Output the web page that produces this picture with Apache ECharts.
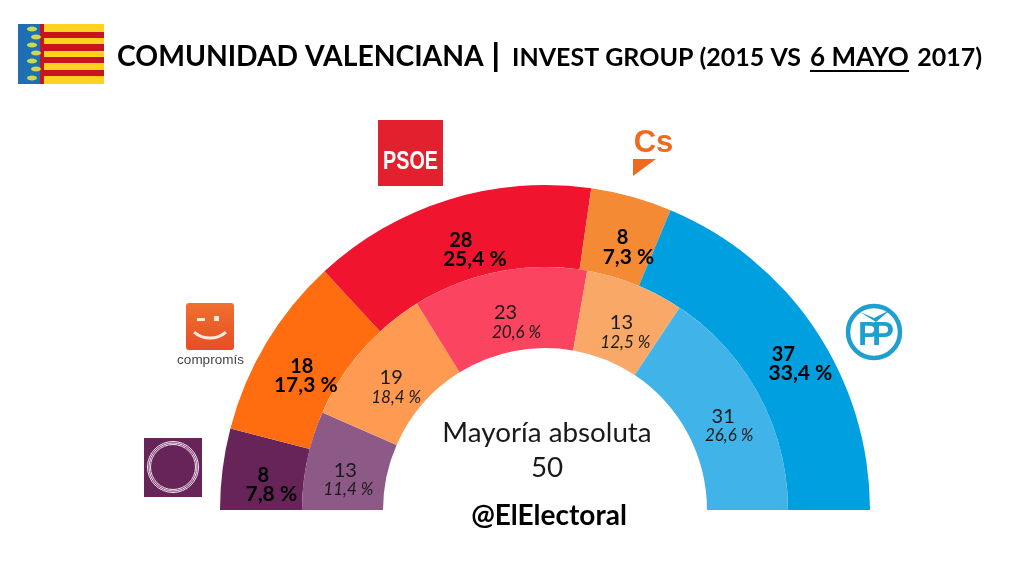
<!DOCTYPE html>
<html><head><meta charset="utf-8">
<script src="https://cdn.jsdelivr.net/npm/echarts@6/dist/echarts.min.js"></script>
<style>html,body{margin:0;padding:0;background:#fff}#c{width:1023px;height:567px}</style>
</head><body><div id="c"></div>
<script>
const parties = ['Podemos','Compromís','PSOE','Cs','PP'];
const seats2017 = [8,18,28,8,37];
const pct2017 = ['7,8','17,3','25,4','7,3','33,4'];
const seats2015 = [13,19,23,13,31];
const pct2015 = ['11,4','18,4','20,6','12,5','26,6'];
const outerColors = ['#662459','#FF6D10','#F0142F','#F58A35','#009FDF'];
const innerColors = ['#8D5A88','#FF9A52','#FB4460','#F9A868','#40B4E8'];
// label nudges [dx, dy, stagger]
const outerNudge = [[7,11,8],[5,13,4],[8,14,14],[4,14,6],[8,13,17]];
const innerNudge = [[3,12,3],[4,12,5],[5,14,11],[2,13,4],[0,13,6]];
const font = 'Lato, sans-serif';
const sans = '"Liberation Sans", sans-serif';
function rect(x,y,w,h,fill,r){return {type:'rect',shape:{x,y,width:w,height:h,r:r||0},style:{fill},silent:true};}
function txt(x,y,t,size,weight,fill,align,family,extra){return Object.assign({type:'text',x,y,silent:true,style:{text:t,fontSize:size,fontWeight:weight,fill:fill,align:align||'left',verticalAlign:'middle',fontFamily:family||font}},extra||{});}
const graphic = [
  rect(18,24,86,60,'#FFD21F'),
  rect(44,32,60,6,'#C8141E'), rect(44,44,60,7,'#C8141E'), rect(44,57,60,6,'#C8141E'), rect(44,70,60,6,'#C8141E'),
  rect(18,24,22,60,'#1F6FB5'), rect(40,24,4,60,'#C8141E'),
  ...[29,37,45,53,61,69,78].map((y,i)=>({type:'ellipse',shape:{cx:i%2?36:32,cy:y,rx:5,ry:2.5},style:{fill:'#CBD94F'},silent:true})),
  txt(117,57,'COMUNIDAD VALENCIANA',28.3,700,'#000'),
  rect(494,42,3.5,30,'#000'),
  txt(512,58,'INVEST GROUP (2015 VS',25,700,'#000'),
  txt(810,58,'6 MAYO',26,700,'#000'),
  txt(982,58,'2017)',25,700,'#000','right'),
  rect(810,70,99,2,'#000'),
  // PSOE
  rect(378,120,65,66,'#E3202E'),
  txt(410.5,162,'PSOE',26,700,'#fff','center',sans,{scaleX:0.76}),
  // Cs
  txt(653.5,143,'Cs',31,700,'#EE6A1F','center',sans),
  {type:'polygon',shape:{points:[[633,159],[656,159],[633,176]]},style:{fill:'#EE6A1F'},silent:true},
  // PP
  {type:'circle',shape:{cx:874,cy:332,r:26},style:{fill:'none',stroke:'#1E9FD0',lineWidth:4.5},silent:true},
  txt(869,336,'P',33,700,'#1E9FD0','center',sans),
  txt(883,336,'P',33,700,'#1E9FD0','center',sans),
  {type:'polygon',shape:{points:[[860,312],[874,318],[890,310],[876,322]]},style:{fill:'#1E9FD0'},silent:true},
  // Compromis
  {type:'rect',shape:{x:186,y:303,width:48,height:47,r:3},silent:true,style:{fill:new echarts.graphic.LinearGradient(0,0,0,1,[{offset:0,color:'#F0702E'},{offset:1,color:'#E64E26'}])}},
  rect(197,318,8,3,'#FBE9DC'), rect(214,316,5,5,'#FBE9DC'),
  {type:'arc',shape:{cx:210,cy:313.7,r:24.3,startAngle:49*Math.PI/180,endAngle:131*Math.PI/180},style:{fill:'none',stroke:'#FBE9DC',lineWidth:3},silent:true},
  txt(210.5,360,'compromís',13.5,400,'#444','center',sans),
  // Podemos
  rect(144,438,58,59,'#662459'),
  ...[25.5,24,22.5].map(r=>({type:'circle',shape:{cx:173,cy:467,r},style:{fill:'none',stroke:'#F3E4F0',lineWidth:1},silent:true})),
  // centre
  txt(547,433,'Mayoría absoluta',27.8,400,'#1a1a1a','center'),
  txt(547,468,'50',27.8,400,'#1a1a1a','center'),
  txt(549,516,'@ElElectoral',28,700,'#000','center'),
];
const base = {
  a:{fontFamily:font,fontSize:20,fontWeight:700,color:'#000',lineHeight:19,align:'center'},
  b:{fontFamily:font,fontSize:21,fontWeight:700,color:'#000',lineHeight:19,align:'center'},
  c:{fontFamily:font,fontSize:20,fontWeight:400,color:'#1a1a1a',lineHeight:20,align:'center'},
  d:{fontFamily:font,fontSize:17,fontStyle:'italic',color:'#1a1a1a',lineHeight:19,align:'center'}
};
function ring(seats,pct,colors,radius,k1,k2,nudge){
  return {type:'pie',center:[545,510],radius,startAngle:180,endAngle:0,clockwise:true,silent:true,animation:false,
    itemStyle:{borderWidth:0},labelLine:{show:false},
    data:seats.map((v,i)=>{
      const [dx,dy,st]=nudge[i];
      const rich={[k1]:Object.assign({},base[k1],{padding:[0,st,0,0]}),[k2]:Object.assign({},base[k2],{padding:[0,0,0,st]})};
      return {name:parties[i],value:v,itemStyle:{color:colors[i]},
        label:{show:true,position:'inside',offset:[dx,dy],rich,formatter:`{${k1}|${v}}\n{${k2}|${pct[i]} %}`}};
    })};
}
const chart = echarts.init(document.getElementById('c'),null,{renderer:'canvas'});
chart.setOption({animation:false,backgroundColor:'#fff',graphic:{elements:graphic},
  series:[ring(seats2017,pct2017,outerColors,[243,325],'a','b',outerNudge),ring(seats2015,pct2015,innerColors,[162,243],'c','d',innerNudge)]});
</script></body></html>
